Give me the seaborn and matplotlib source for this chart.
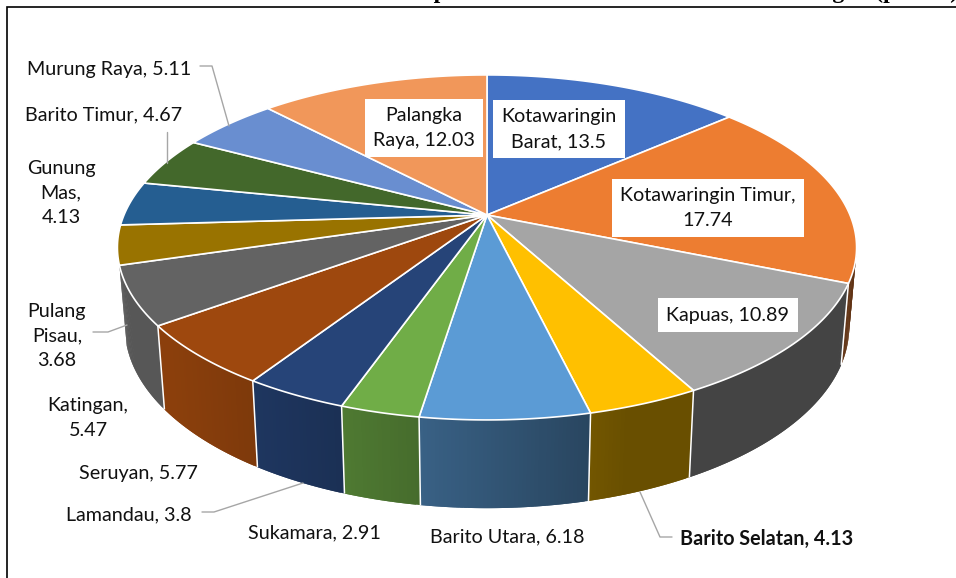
import numpy as np
import matplotlib
matplotlib.use("Agg")
import matplotlib.pyplot as plt
from matplotlib.collections import PolyCollection
from matplotlib.patches import Polygon
import seaborn as sns

regions = ["Kotawaringin Barat", "Kotawaringin Timur", "Kapuas", "Barito Selatan",
           "Barito Utara", "Sukamara", "Lamandau", "Seruyan", "Katingan",
           "Pulang Pisau", "Gunung Mas", "Barito Timur", "Murung Raya", "Palangka Raya"]
values = [13.5, 17.74, 10.89, 4.13, 6.18, 2.91, 3.8, 5.77, 5.47, 3.68, 4.13, 4.67, 5.11, 12.03]
value_labels = ["13.5", "17.74", "10.89", "4.13", "6.18", "2.91", "3.8", "5.77", "5.47",
                "3.68", "4.13", "4.67", "5.11", "12.03"]
slice_colors = ["#4472C4", "#ED7D31", "#A5A5A5", "#FFC000", "#5B9BD5", "#70AD47", "#264478",
                "#9E480E", "#636363", "#997300", "#255E91", "#43682B", "#698ED0", "#F1975A"]
title_text = "Persentase Menurut Kabupaten/Kota di Provinsi Kalimantan Tengah (persen)"

sns.set_theme(style="white")
plt.rcParams["font.family"] = ["Lato", "DejaVu Sans"]
palette = sns.color_palette(slice_colors)

fig = plt.figure(figsize=(9.56, 5.78), dpi=100, facecolor="white")
ax = fig.add_axes([0, 0, 1, 1])
ax.set_xlim(0, 956)
ax.set_ylim(578, 0)
ax.axis("off")

CX, APEX_Y, A, B, K = 487.0, 215.0, 363.0, 166.4, 0.188
BOT_SX, BOT_SY, BOT_Y = 0.98, 1.05, 293.0


def top_xy(theta):
    X, Y = np.sin(theta), np.cos(theta)
    w = 1 + K * Y
    return A * X / w, B * Y / w


def top_pts(theta):
    dx, dy = top_xy(theta)
    return np.column_stack([CX + dx, APEX_Y - dy])


def bot_pts(theta):
    dx, dy = top_xy(theta)
    return np.column_stack([CX + BOT_SX * dx, BOT_Y - BOT_SY * dy])


def shade(x):
    return np.clip(0.88 - (x - 170) * 0.43 / 420, 0.41, 0.88)


fractions = np.array(values, dtype=float) / sum(values)
edges = np.concatenate([[0], np.cumsum(fractions)]) * 2 * np.pi
SIDE_FROM = np.radians(98)
SIDE_TO = edges[regions.index("Katingan") + 1]

# side wall: overlapping strips painted in order, so no seams show
for i, col in enumerate(palette):
    lo, hi = max(edges[i], SIDE_FROM), min(edges[i + 1], SIDE_TO)
    if hi <= lo:
        continue
    th = np.linspace(lo, hi, max(4, int(np.degrees(hi - lo) * 2)))
    t, b = top_pts(th), bot_pts(th)
    quads, cols = [], []
    for j in range(len(th) - 1):
        k = min(j + 2, len(th) - 1)
        quads.append([t[j], t[k], b[k], b[j]])
        f = shade((t[j][0] + t[j + 1][0]) / 2)
        cols.append(tuple(np.array(col) * f))
    ax.add_collection(PolyCollection(quads, facecolors=cols, edgecolors="none", linewidths=0, zorder=2))
    if SIDE_FROM < edges[i] < SIDE_TO:
        p, q = top_pts(edges[i:i + 1])[0], bot_pts(edges[i:i + 1])[0]
        ax.plot([p[0], q[0]], [p[1], q[1]], color="white", lw=1.1, zorder=3, solid_capstyle="butt")

# top face
for i, col in enumerate(palette):
    th = np.linspace(edges[i], edges[i + 1], 80)
    pts = np.vstack([[CX, APEX_Y], top_pts(th)])
    ax.add_patch(Polygon(pts, closed=True, facecolor=col, edgecolor="white", lw=1.2,
                         joinstyle="round", zorder=4))

# frame and clipped heading
ax.plot([7.5, 7.5, 960], [582, 6.5, 6.5], color="black", lw=1.2, zorder=1, solid_joinstyle="miter")
ax.text(958, -2, title_text, ha="right", va="baseline", fontsize=17, fontweight="bold",
        family=["Liberation Serif", "DejaVu Serif"], color="black", zorder=6, clip_on=False)

# leader lines
LEAD = "#A6A6A6"
leaders = [
    [(200, 66), (212, 66), (229, 126)],
    [(167, 132), (167, 163)],
    [(93, 332), (108, 332), (127, 325)],
    [(202, 512), (214, 512), (303, 483)],
    [(640, 492), (660, 537), (672, 537)],
]
for path in leaders:
    xs, ys = zip(*path)
    ax.plot(xs, ys, color=LEAD, lw=1.0, zorder=5)

# labels: centre position, wrapped name, boxed?
label_layout = {
    "Kotawaringin Barat": (559, 129, "Kotawaringin\nBarat, {}", True),
    "Kotawaringin Timur": (708, 208, "Kotawaringin Timur,\n{}", True),
    "Kapuas": (728, 315, "Kapuas, {}", True),
    "Barito Selatan": (767, 539, "Barito Selatan, {}", False),
    "Barito Utara": (507, 537, "Barito Utara, {}", False),
    "Sukamara": (314, 533, "Sukamara, {}", False),
    "Lamandau": (129, 515, "Lamandau, {}", False),
    "Seruyan": (138, 473, "Seruyan, {}", False),
    "Katingan": (88, 418, "Katingan,\n{}", False),
    "Pulang Pisau": (57, 336, "Pulang\nPisau,\n{}", False),
    "Gunung Mas": (61, 193, "Gunung\nMas,\n{}", False),
    "Barito Timur": (104, 115, "Barito Timur, {}", False),
    "Murung Raya": (109, 69, "Murung Raya, {}", False),
    "Palangka Raya": (424, 128, "Palangka\nRaya, {}", True),
}
for name, val in zip(regions, value_labels):
    x, y, fmt, boxed = label_layout[name]
    bold = name == "Barito Selatan"
    box = dict(facecolor="white", edgecolor="none", pad=6) if boxed else None
    ax.text(x, y, fmt.format(val), ha="center", va="center", fontsize=14.2, color="#111111",
            linespacing=1.56, fontweight="bold" if bold else "normal", bbox=box, zorder=7)

fig.savefig("out.png", dpi=100, facecolor="white")
